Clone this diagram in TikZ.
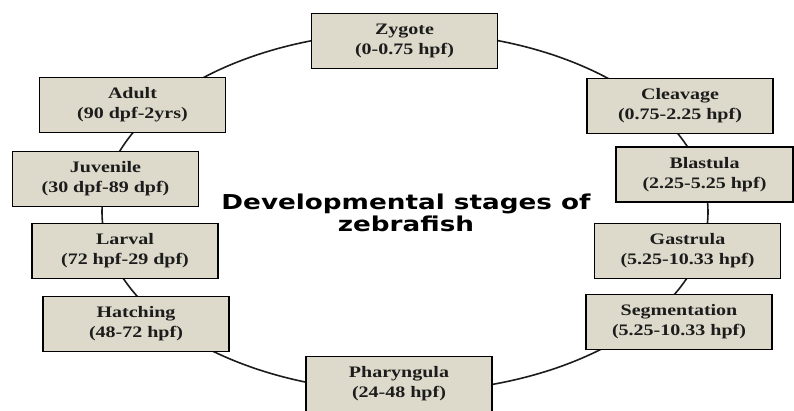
\documentclass[tikz,border=0pt]{standalone}
\usepackage{fontspec}
\usetikzlibrary{shapes.geometric}
\newfontfamily\boxfont{Liberation Serif}[FakeStretch=1.25]
\newfontfamily\titlefont{DejaVu Sans}[FakeStretch=1.28]
\definecolor{boxfill}{RGB}{221,218,203}
\definecolor{ink}{RGB}{28,28,28}
\tikzset{
  stagebox/.style={draw=black, line width=1.6pt, fill=boxfill, text=ink,
    align=center, inner sep=0pt, minimum width=186pt, minimum height=55pt,
    font=\boxfont\bfseries\fontsize{16}{20}\selectfont},
  ringline/.style={draw=ink, line width=1.6pt}
}
\begin{document}
\begin{tikzpicture}[x=1pt,y=-1pt]
\useasboundingbox (0,0) rectangle (794,410);
\node[ringline, ellipse, inner sep=0pt, minimum width=606pt, minimum height=360pt] (ring) at (405,212) {};
\node[stagebox] (zygote) at (404.5,41) {Zygote\\(0-0.75 hpf)};
\node[stagebox] (cleavage) at (680,106) {Cleavage\\(0.75-2.25 hpf)};
\node[stagebox, minimum width=177pt] (blastula) at (704.5,174.5) {Blastula\\(2.25-5.25 hpf)};
\node[stagebox] (gastrula) at (687.5,251) {Gastrula\\(5.25-10.33 hpf)};
\node[stagebox] (segmentation) at (679,322) {Segmentation\\(5.25-10.33 hpf)};
\node[stagebox] (pharyngula) at (399,384) {Pharyngula\\(24-48 hpf)};
\node[stagebox] (hatching) at (136,324) {Hatching\\(48-72 hpf)};
\node[stagebox] (larval) at (125,251) {Larval\\(72 hpf-29 dpf)};
\node[stagebox] (juvenile) at (105.5,179) {Juvenile\\(30 dpf-89 dpf)};
\node[stagebox] (adult) at (132.5,105) {Adult\\(90 dpf-2yrs)};
\node[align=center, text=black, inner sep=0pt,
  font=\titlefont\bfseries\fontsize{20.5}{21.5}\selectfont] (title) at (406,213)
  {Developmental stages of\\zebrafish};
\end{tikzpicture}
\end{document}
